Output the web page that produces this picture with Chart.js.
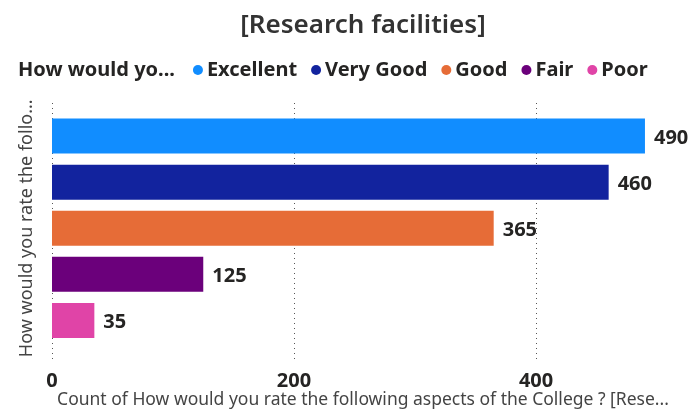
<!DOCTYPE html>
<html>
<head>
<meta charset="utf-8">
<script src="https://cdn.jsdelivr.net/npm/chart.js@4/dist/chart.umd.min.js"></script>
<style>
  html, body { margin: 0; padding: 0; background: #fff; }
  #wrap { width: 690px; height: 416px; position: relative; }
</style>
</head>
<body>
<div id="wrap"><canvas id="chart"></canvas></div>
<script>
"use strict";
// data
const chartTitle = "[Research facilities]";
const legendTitle = "How would yo...";
const categories = ["Excellent", "Very Good", "Good", "Fair", "Poor"];
const counts = [490, 460, 365, 125, 35];
const colors = ["#118DFF", "#12239E", "#E66C37", "#6B007B", "#E044A7"];
const xTicks = [0, 200, 400];
const yAxisTitle = "How would you rate the follo...";
const xAxisTitle = "Count of How would you rate the following aspects of the College ? [Rese...";

const FONT = "'Noto Sans', 'Open Sans', sans-serif";

// dotted vertical gridlines, a bit taller than the plot like Power BI draws them
const dottedGrid = {
  id: "dottedGrid",
  beforeDatasetsDraw(chart) {
    const { ctx, chartArea, scales } = chart;
    ctx.save();
    ctx.strokeStyle = "#555";
    ctx.lineWidth = 1;
    ctx.setLineDash([1, 4]);
    scales.x.ticks.forEach(function (t) {
      const x = Math.round(scales.x.getPixelForValue(t.value)) + 0.5;
      ctx.beginPath();
      ctx.moveTo(x, chartArea.top - 10);
      ctx.lineTo(x, chartArea.bottom + 16);
      ctx.stroke();
    });
    ctx.restore();
  },
};

// value labels at the end of each bar
const valueLabels = {
  id: "valueLabels",
  afterDatasetsDraw(chart) {
    const { ctx } = chart;
    const meta = chart.getDatasetMeta(0);
    ctx.save();
    ctx.font = "bold 20px " + FONT;
    ctx.fillStyle = "#252423";
    ctx.textBaseline = "middle";
    ctx.textAlign = "left";
    meta.data.forEach(function (bar, i) {
      ctx.fillText(String(counts[i]), bar.x + 9, bar.y + 2);
    });
    ctx.restore();
  },
};

// inline legend: title then coloured dots
const inlineLegend = {
  id: "inlineLegend",
  afterDraw(chart) {
    const { ctx } = chart;
    const y = 70;
    ctx.save();
    ctx.font = "bold 20px " + FONT;
    ctx.textBaseline = "middle";
    ctx.fillStyle = "#252423";
    let x = 18;
    ctx.fillText(legendTitle, x, y);
    x += ctx.measureText(legendTitle).width + 23;
    categories.forEach(function (c, i) {
      ctx.beginPath();
      ctx.fillStyle = colors[i];
      ctx.arc(x, y, 5, 0, Math.PI * 2);
      ctx.fill();
      ctx.fillStyle = "#252423";
      ctx.fillText(c, x + 9, y);
      x += 9 + ctx.measureText(c).width + 19;
    });
    ctx.restore();
  },
};

new Chart(document.getElementById("chart"), {
  type: "bar",
  data: {
    labels: categories,
    datasets: [
      {
        label: legendTitle,
        data: counts,
        backgroundColor: colors,
        borderWidth: 0,
        categoryPercentage: 1,
        barPercentage: 0.76,
      },
    ],
  },
  options: {
    indexAxis: "y",
    responsive: true,
    maintainAspectRatio: false,
    animation: false,
    layout: { padding: { left: 0, right: 16, top: 0, bottom: 0 } },
    plugins: {
      legend: { display: false },
      tooltip: { enabled: false },
      title: {
        display: true,
        text: chartTitle,
        fullSize: false,
        color: "#333",
        font: { family: FONT, size: 26, weight: "600" },
        padding: { top: 10, bottom: 71.8 },
      },
    },
    scales: {
      x: {
        min: 0,
        max: 514,
        afterBuildTicks: function (s) {
          s.ticks = xTicks.map(function (v) { return { value: v }; });
        },
        afterFit: function (s) { s.height = 72.5; },
        grid: { display: false },
        border: { display: false },
        ticks: {
          color: "#252423",
          padding: 18,
          font: { family: FONT, size: 20, weight: "bold" },
        },
        title: {
          display: true,
          text: xAxisTitle,
          color: "#444",
          padding: { top: 0, bottom: 7 },
          font: { family: FONT, size: 17.5, lineHeight: 1 },
        },
      },
      y: {
        afterFit: function (s) { s.width = 52; },
        grid: { display: false },
        border: { display: false },
        ticks: { display: false },
        title: {
          display: true,
          text: yAxisTitle,
          color: "#444",
          padding: { top: 18, bottom: 0 },
          font: { family: FONT, size: 18, lineHeight: 1 },
        },
      },
    },
  },
  plugins: [dottedGrid, valueLabels, inlineLegend],
});
</script>
</body>
</html>
